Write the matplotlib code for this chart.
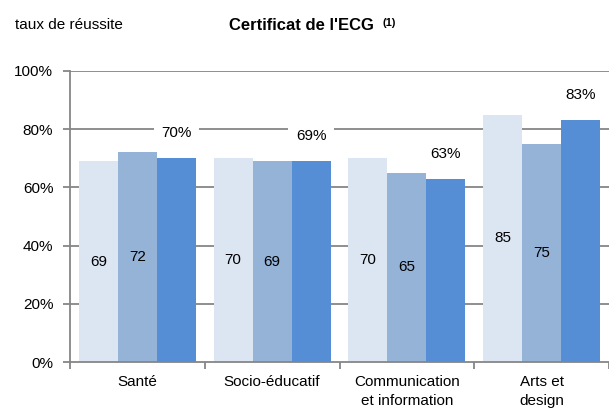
import matplotlib
matplotlib.use("Agg")
import matplotlib.pyplot as plt
import numpy as np

plt.rcParams['font.family'] = ['Liberation Sans', 'DejaVu Sans']

categories = ["Santé", "Socio-éducatif", "Communication\net information", "Arts et\ndesign"]
series_1 = [69, 70, 70, 85]
series_2 = [72, 69, 65, 75]
series_3 = [70, 69, 63, 83]
yticks = [0, 20, 40, 60, 80, 100]
ytick_labels = ["0%", "20%", "40%", "60%", "80%", "100%"]

colors = ["#DCE6F2", "#95B3D7", "#558ED5"]
grey = "#868686"

fig = plt.figure(figsize=(6.09, 4.17), dpi=100)
ax = fig.add_axes([70/609, 55/417, 539/609, 291/417])

x = np.arange(len(categories))
w = 0.29
for i, (vals, c) in enumerate(zip([series_1, series_2, series_3], colors)):
    ax.bar(x + (i - 1) * w, vals, width=w, color=c, zorder=2, linewidth=0)

fs = 11
for xi, v in zip(x, series_1):
    ax.text(xi - w, v / 2, f"{v}", ha="center", va="center", fontsize=fs, zorder=3)
for xi, v in zip(x, series_2):
    ax.text(xi, v / 2, f"{v}", ha="center", va="center", fontsize=fs, zorder=3)
for xi, v in zip(x, series_3):
    ax.annotate(f"{v}%", xy=(xi + w, v), xytext=(0, 18), textcoords="offset points",
                ha="center", va="center", fontsize=fs, zorder=4,
                bbox=dict(boxstyle="square,pad=0.5", fc="white", ec="none"))

ax.set_xlim(-0.5, len(categories) - 0.5)
ax.set_ylim(0, 100)
ax.set_yticks(yticks)
ax.set_yticklabels(ytick_labels, fontsize=fs)
for yv in yticks[1:]:
    ax.axhline(yv, color=grey, linewidth=1.3, zorder=1)

ax.set_xticks(x)
ax.set_xticklabels(categories, fontsize=fs, linespacing=1.5)
ax.set_xticks(np.arange(len(categories) + 1) - 0.5, minor=True)
ax.tick_params(axis="x", which="major", length=0, pad=9)
ax.tick_params(axis="x", which="minor", length=5, width=1.3, color=grey)
ax.tick_params(axis="y", length=5, width=1.3, color=grey, pad=7)

for s in ["top", "right"]:
    ax.spines[s].set_visible(False)
for s in ["left", "bottom"]:
    ax.spines[s].set_color(grey)
    ax.spines[s].set_linewidth(1.3)

fig.text(15/609, 1 - 25/417, "taux de réussite", fontsize=fs, ha="left", va="center")
t = fig.text(229/609, 1 - 25/417, "Certificat de l'ECG", fontsize=12, fontweight="bold",
             ha="left", va="center")
ax.annotate("(1)", xy=(1, 1), xycoords=t, xytext=(6, 0), textcoords="offset points",
            ha="left", va="top", fontsize=8, fontweight="bold", annotation_clip=False)

fig.savefig("out.png", dpi=100)
